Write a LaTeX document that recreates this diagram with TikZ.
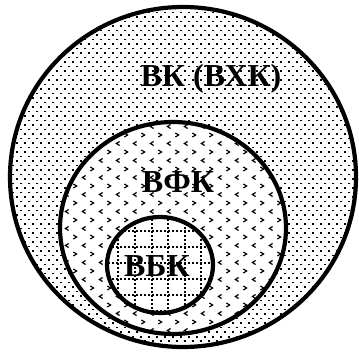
\documentclass[tikz,border=0pt]{standalone}
\usepackage{fontspec}
\setmainfont{Liberation Serif}
\tikzset{
  ring/.style={draw=black, line width=4.2pt},
  setname/.style={font=\fontsize{32}{34}\selectfont\bfseries, inner sep=0pt},
  chev/.style={line width=1.2pt},
  gridline/.style={line width=1.4pt, dash pattern=on 1.6pt off 2.4pt},
}
\begin{document}
\begin{tikzpicture}[x=1pt, y=1pt]
\useasboundingbox (0,0) rectangle (359,351);
\fill[white] (0,0) rectangle (359,351);

% outer set: dots
\begin{scope}
  \clip (183,174) ellipse [x radius=173, y radius=170];
  \foreach \i in {0,...,45} {
    \foreach \j in {0,...,78} {
      \fill ({\i*8+4*mod(\j,2)},{\j*4.5}) rectangle +(1.6,1.6);
    }
  }
\end{scope}

% middle set: chevrons
\fill[white] (173,123) ellipse [x radius=113, y radius=106];
\begin{scope}
  \clip (173,123) ellipse [x radius=113, y radius=106];
  \foreach \j in {0,...,28} {
    \foreach \i in {0,...,14} {
      \pgfmathsetmacro{\cy}{12+\j*8.5}
      \ifodd\j
        \draw[chev] ({50+\i*17+1.6},\cy+2) -- ({50+\i*17-1.6},\cy) -- ({50+\i*17+1.6},\cy-2);
      \else
        \draw[chev] ({58+\i*17-1.6},\cy+2) -- ({58+\i*17+1.6},\cy) -- ({58+\i*17-1.6},\cy-2);
      \fi
    }
  }
\end{scope}

% inner set: dotted grid
\fill[white] (160,86) ellipse [x radius=53, y radius=48];
\begin{scope}
  \clip (160,86) ellipse [x radius=53, y radius=48];
  \foreach \x in {102,118,135,152,168,185,201} {
    \draw[gridline] (\x,30) -- (\x,140);
  }
  \foreach \y in {24,40,56,72,88,104,120,136} {
    \draw[gridline] (100,\y) -- (220,\y);
  }
\end{scope}

% outlines
\draw[ring] (183,174) ellipse [x radius=173, y radius=170];
\draw[ring] (173,123) ellipse [x radius=113, y radius=106];
\draw[ring] (160,86) ellipse [x radius=53, y radius=48];

\node[setname] (vk) at (211,272) {ВК (ВХК)};
\node[setname] (vfk) at (178,169) {ВФК};
\node[setname] (vbk) at (157,85) {ВБК};
\end{tikzpicture}
\end{document}
